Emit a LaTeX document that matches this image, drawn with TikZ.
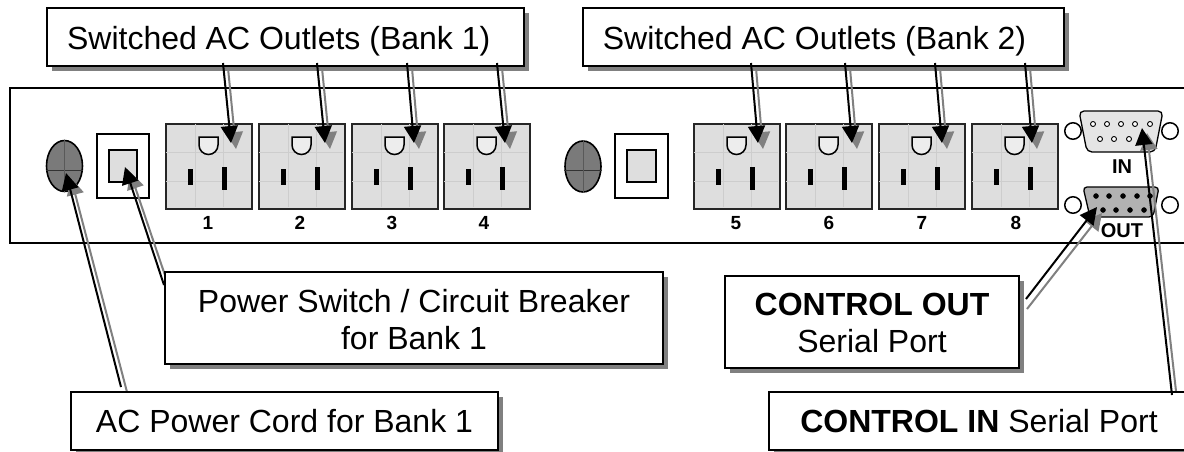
\documentclass[tikz,border=0pt]{standalone}
\usepackage{fontspec}
\setmainfont{Liberation Sans}
\usetikzlibrary{arrows.meta,shapes.geometric,shadows,positioning}
\definecolor{shadowgray}{HTML}{808080}
\definecolor{facegray}{HTML}{DEDEDE}
\definecolor{gridgray}{HTML}{CDCDCD}
\newcommand{\lbltext}[3]{\raisebox{#2pt}[0pt][0pt]{\makebox[0pt]{\hspace*{#1pt}\parbox[t]{480pt}{\centering\fontsize{32}{37}\selectfont #3}}}}
\tikzset{
  callout/.style={draw=black,line width=1.8pt,fill=white,inner sep=0pt,rectangle,
    copy shadow={draw=none,fill=shadowgray,shadow xshift=5pt,shadow yshift=-5pt}},
  blackarrow/.style={draw=black,line width=2pt,-{Triangle[length=17pt,width=17pt]}},
  grayarrow/.style={draw=shadowgray,line width=2pt,-{Triangle[length=17pt,width=17pt]}},
  outlet/.style={draw=black!85,line width=1.8pt,fill=facegray,rectangle,inner sep=0pt,minimum width=86pt,minimum height=85pt},
  sw/.style={draw=black,line width=1.6pt,fill=white,rectangle,inner sep=0pt},
  swin/.style={draw=black,line width=1.6pt,fill=facegray,rectangle,inner sep=0pt},
  cord/.style={draw=black,line width=1.6pt,fill=black!52,ellipse,inner sep=0pt,minimum width=36pt,minimum height=51pt},
  ring/.style={draw=black,line width=1.5pt,fill=white,circle,inner sep=0pt,minimum size=16.5pt},
  num/.style={font=\fontsize{19}{20}\selectfont\bfseries,inner sep=0pt},
  portname/.style={font=\fontsize{20}{22}\selectfont\bfseries,inner sep=0pt},
  gridln/.style={draw=gridgray,line width=0.5pt},
  holeopen/.style={draw=black,line width=0.9pt,fill=white,circle,inner sep=0pt,minimum size=5pt},
  holefull/.style={draw=black,fill=black,circle,inner sep=0pt,minimum size=5pt},
}
\begin{document}
\begin{tikzpicture}[x=1pt,y=-1pt]
\useasboundingbox (0,0) rectangle (1184,451);
\clip (0,0) rectangle (1184,451);
\fill[white] (0,0) rectangle (1184,451);
% panel
\node[draw=black,line width=1.6pt,fill=white,rectangle,inner sep=0pt,minimum width=1190pt,minimum height=155pt] (panel) at (605,165.5) {};
% power parts
\node[cord] (cord1) at (64.5,166) {};
\draw[line width=0.6pt,black!80] (cord1.west |- 0,170) -- (cord1.east |- 0,170);
\draw[line width=0.3pt,black!65] (cord1.north) -- (cord1.south);
\node[sw,minimum width=52pt,minimum height=64pt] (sw1) at (123,166) {};
\node[swin,minimum width=28pt,minimum height=32pt] (sw1in) at (123,166) {};
\node[cord] (cord2) at (583,166.5) {};
\draw[line width=0.6pt,black!80] (cord2.west |- 0,170) -- (cord2.east |- 0,170);
\draw[line width=0.3pt,black!65] (cord2.north) -- (cord2.south);
\node[sw,minimum width=53pt,minimum height=64pt] (sw2) at (641.5,166) {};
\node[swin,minimum width=29pt,minimum height=32pt] (sw2in) at (641.5,166) {};
% outlets
\foreach \n/\x/\lx in {1/165/208,2/258/300,3/351/392,4/443/484,5/693/736,6/785/829,7/878/922,8/971/1016}{
  \node[outlet,anchor=north west] (o\n) at (\x,123) {};
  \draw[gridln] (\x+30,124) -- (\x+30,207) (\x+58,124) -- (\x+58,207) (\x+1,152) -- (\x+85,152) (\x+1,181) -- (\x+85,181);
  \draw[line width=1.5pt,fill=black!7] (\x+34,137) -- (\x+53,137) -- (\x+53,145) arc[start angle=0,end angle=-180,radius=9.5pt] -- cycle;
  \fill[black] (\x+23,169) rectangle (\x+28,185);
  \fill[black] (\x+57,167) rectangle (\x+62,190);
  \node[num] (n\n) at (\lx,223) {\n};
}
% serial IN
\node[ring] (inl) at (1073,131) {};
\node[ring] (inr) at (1170,131) {};
\draw[line width=1.3pt,fill=black!10,rounded corners=5pt] (1079,111) -- (1163,111) -- (1155,152) -- (1087,152) -- cycle;
\foreach \x in {1093,1107,1121,1135,1150}{\node[holeopen] at (\x,124) {};}
\foreach \x in {1100,1114,1129,1143}{\node[holeopen] at (\x,139) {};}
\node[portname] (inlbl) at (1122,167) {IN};
% serial OUT
\node[ring] (outl) at (1073,205) {};
\node[ring] (outr) at (1170,205) {};
\draw[line width=1.3pt,fill=black!30,rounded corners=4pt] (1083,187) -- (1159,187) -- (1153,217) -- (1090,217) -- cycle;
\foreach \x in {1096,1109,1123,1137,1150}{\node[holefull] at (\x,196) {};}
\foreach \x in {1103,1116,1130,1144}{\node[holefull] at (\x,210) {};}
\node[portname] (outlbl) at (1122,231) {OUT};
% connector end points
\foreach \n/\sx/\tx in {1/223/231,2/317/325,3/407/414,4/497/505,5/751/758,6/845/852,7/935/942,8/1025/1032}{
  \coordinate (s\n) at (\sx,63);
  \coordinate (t\n) at (\tx,143);
}
\coordinate (tsw) at (125,167);
\coordinate (tcord) at (66,173);
\coordinate (tout) at (1097,207);
\coordinate (tin) at (1142,128);
% shadows of connectors
\foreach \n in {1,...,8}{\draw[grayarrow] ([shift={(5,5)}]s\n) -- ([shift={(5,6)}]t\n);}
\coordinate (gsw) at (170,290);
\coordinate (gcord) at (127,392);
\coordinate (gout) at (1027,309);
\coordinate (gin) at (1177,400);
\draw[grayarrow] (gsw) -- ([shift={(5,5)}]tsw);
\draw[grayarrow] (gcord) -- ([shift={(5,5)}]tcord);
\draw[grayarrow] (gout) -- ([shift={(5,6)}]tout);
\draw[grayarrow] (gin) -- ([shift={(5,5)}]tin);
% call-out boxes
\node[callout,minimum width=477pt,minimum height=58pt] (bank1) at (285.5,37) {\lbltext{-13.6}{-12}{Switched AC Outlets (Bank 1)}};
\node[callout,minimum width=481pt,minimum height=58pt] (bank2) at (823.5,37) {\lbltext{-18}{-12}{Switched AC Outlets (Bank 2)}};
\node[callout,minimum width=498pt,minimum height=92pt] (power) at (414,318) {\lbltext{0}{6}{Power Switch / Circuit Breaker\\for Bank 1}};
\node[callout,minimum width=427pt,minimum height=58pt] (cordbox) at (284.5,421) {\lbltext{0}{-11}{AC Power Cord for Bank 1}};
\node[callout,minimum width=294pt,minimum height=92pt] (ctlout) at (872,322) {\lbltext{0}{7}{\textbf{CONTROL OUT}\\Serial Port}};
\node[callout,minimum width=420pt,minimum height=58pt] (ctlin) at (979,421) {\lbltext{0}{-11}{\textbf{CONTROL IN} Serial Port}};
% connectors
\foreach \n in {1,...,8}{\draw[blackarrow] (s\n) -- (t\n);}
\coordinate (ssw) at (164,285);
\coordinate (scord) at (121,387);
\coordinate (sout) at (1026,299);
\coordinate (sin) at (1172,395);
\draw[blackarrow] (ssw) -- (tsw);
\draw[blackarrow] (scord) -- (tcord);
\draw[blackarrow] (sout) -- (tout);
\draw[blackarrow] (sin) -- (tin);
\end{tikzpicture}
\end{document}
